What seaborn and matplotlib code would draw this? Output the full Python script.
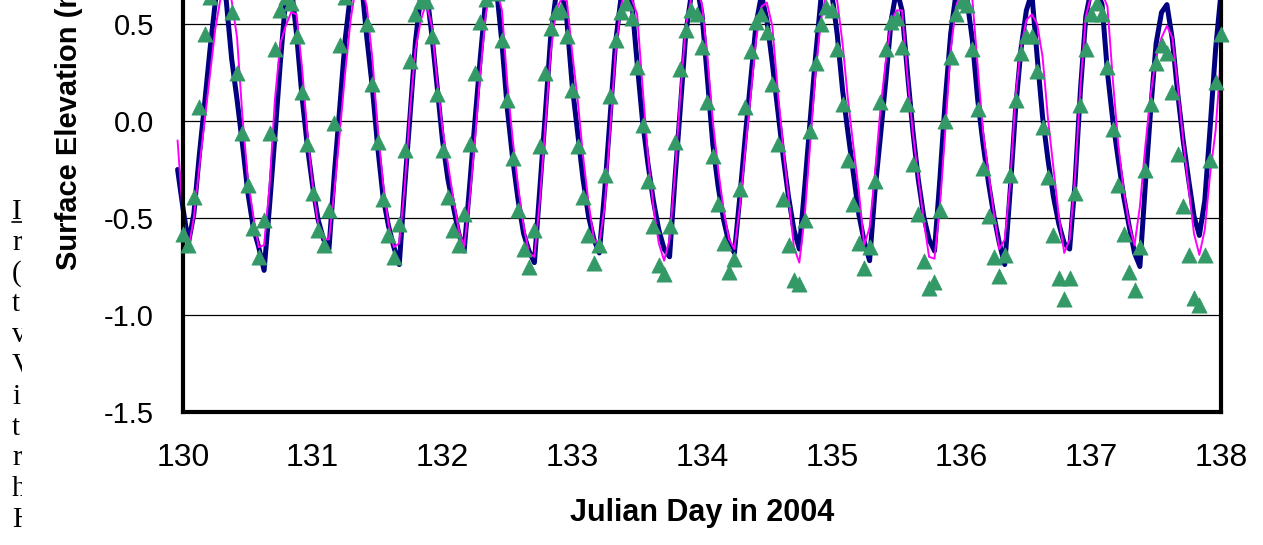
import numpy as np
import pandas as pd
import seaborn as sns
import matplotlib.pyplot as plt
from matplotlib import font_manager
from matplotlib.lines import Line2D
from matplotlib.patches import Rectangle

# hourly surface elevation (m), day 130.0 -> 138.0
obs_elev = [
    -0.58, -0.64, -0.39, 0.07, 0.45, 0.64, 0.75, 0.76, 0.68, 0.56, 0.25, -0.06,
    -0.33, -0.55, -0.70, -0.51, -0.06, 0.37, 0.57, 0.64, 0.61, 0.44, 0.15, -0.12,
    -0.37, -0.56, -0.64, -0.46, -0.01, 0.39, 0.64, 0.75, 0.78, 0.68, 0.50, 0.19,
    -0.11, -0.40, -0.59, -0.70, -0.53, -0.15, 0.31, 0.55, 0.62, 0.62, 0.44, 0.14,
    -0.15, -0.39, -0.56, -0.64, -0.48, -0.12, 0.25, 0.51, 0.63, 0.72, 0.66, 0.42,
    0.11, -0.19, -0.46, -0.66, -0.75, -0.56, -0.13, 0.25, 0.48, 0.56, 0.57, 0.44,
    0.16, -0.13, -0.39, -0.59, -0.73, -0.64, -0.28, 0.13, 0.42, 0.56, 0.61, 0.53,
    0.28, -0.02, -0.31, -0.54, -0.74, -0.79, -0.54, -0.11, 0.27, 0.47, 0.57, 0.55,
    0.38, 0.10, -0.18, -0.43, -0.63, -0.78, -0.71, -0.35, 0.07, 0.36, 0.51, 0.55,
    0.46, 0.19, -0.12, -0.40, -0.64, -0.82, -0.84, -0.51, -0.05, 0.30, 0.50, 0.59,
    0.57, 0.37, 0.09, -0.20, -0.43, -0.63, -0.76, -0.65, -0.31, 0.10, 0.37, 0.51,
    0.53, 0.38, 0.09, -0.22, -0.48, -0.72, -0.86, -0.83, -0.46, 0.00, 0.33, 0.55,
    0.62, 0.60, 0.37, 0.06, -0.24, -0.49, -0.70, -0.80, -0.69, -0.28, 0.11, 0.35,
    0.44, 0.44, 0.26, -0.03, -0.29, -0.59, -0.81, -0.92, -0.81, -0.37, 0.08, 0.37,
    0.55, 0.61, 0.55, 0.28, -0.04, -0.33, -0.58, -0.78, -0.87, -0.65, -0.25, 0.09,
    0.30, 0.39, 0.35, 0.15, -0.17, -0.44, -0.69, -0.91, -0.95, -0.69, -0.20, 0.20,
    0.45,
]

# model runs start one hour before day 130
navy_elev = [
    -0.25,
    -0.45, -0.63, -0.48, -0.18, 0.09, 0.37, 0.62, 0.76, 0.62, 0.32, 0.11, -0.12,
    -0.37, -0.55, -0.65, -0.77, -0.44, -0.08, 0.30, 0.63, 0.70, 0.45, 0.13, -0.13,
    -0.34, -0.51, -0.61, -0.66, -0.27, 0.07, 0.42, 0.66, 0.76, 0.72, 0.43, 0.18,
    -0.13, -0.39, -0.54, -0.65, -0.74, -0.34, 0.03, 0.41, 0.65, 0.68, 0.45, 0.18,
    -0.10, -0.30, -0.44, -0.58, -0.67, -0.34, 0.00, 0.33, 0.63, 0.74, 0.68, 0.40,
    0.06, -0.20, -0.41, -0.58, -0.67, -0.73, -0.35, 0.03, 0.43, 0.65, 0.68, 0.52,
    0.18, -0.06, -0.30, -0.49, -0.61, -0.68, -0.36, 0.02, 0.40, 0.63, 0.70, 0.62,
    0.30, 0.00, -0.22, -0.41, -0.56, -0.66, -0.70, -0.30, 0.07, 0.45, 0.65, 0.70,
    0.55, 0.22, -0.12, -0.34, -0.51, -0.63, -0.68, -0.39, -0.08, 0.21, 0.50, 0.65,
    0.52, 0.30, 0.06, -0.18, -0.39, -0.56, -0.66, -0.34, 0.00, 0.33, 0.63, 0.72,
    0.66, 0.45, 0.16, -0.06, -0.27, -0.48, -0.62, -0.72, -0.36, -0.08, 0.21, 0.52,
    0.68, 0.57, 0.25, -0.05, -0.30, -0.49, -0.61, -0.67, -0.30, 0.11, 0.45, 0.66,
    0.70, 0.63, 0.42, 0.11, -0.12, -0.32, -0.49, -0.63, -0.74, -0.36, 0.06, 0.37,
    0.57, 0.66, 0.33, 0.02, -0.20, -0.39, -0.53, -0.63, -0.66, -0.32, 0.16, 0.54,
    0.68, 0.68, 0.60, 0.25, 0.00, -0.20, -0.39, -0.54, -0.68, -0.75, -0.33, 0.06,
    0.40, 0.56, 0.60, 0.42, 0.14, -0.10, -0.30, -0.49, -0.59, -0.41, -0.03, 0.37,
    0.66,
]

magenta_elev = [
    -0.10,
    -0.50, -0.66, -0.50, -0.24, 0.00, 0.24, 0.48, 0.64, 0.72, 0.62, 0.43, 0.02,
    -0.30, -0.49, -0.65, -0.64, -0.34, 0.11, 0.40, 0.49, 0.56, 0.55, 0.28, -0.06,
    -0.34, -0.53, -0.61, -0.61, -0.36, -0.06, 0.25, 0.52, 0.70, 0.70, 0.59, 0.33,
    -0.03, -0.32, -0.53, -0.65, -0.63, -0.34, 0.06, 0.37, 0.52, 0.61, 0.49, 0.21,
    -0.04, -0.22, -0.40, -0.56, -0.65, -0.41, -0.10, 0.25, 0.55, 0.70, 0.68, 0.57,
    0.19, -0.10, -0.34, -0.54, -0.68, -0.70, -0.41, -0.03, 0.35, 0.57, 0.63, 0.62,
    0.35, 0.11, -0.18, -0.42, -0.61, -0.63, -0.44, -0.05, 0.35, 0.59, 0.70, 0.63,
    0.55, 0.18, -0.18, -0.44, -0.63, -0.72, -0.61, -0.27, 0.14, 0.49, 0.63, 0.70,
    0.60, 0.33, 0.00, -0.25, -0.46, -0.61, -0.66, -0.44, -0.15, 0.13, 0.42, 0.59,
    0.61, 0.49, 0.16, -0.13, -0.39, -0.65, -0.73, -0.49, -0.12, 0.25, 0.52, 0.66,
    0.70, 0.62, 0.40, 0.11, -0.13, -0.36, -0.64, -0.55, -0.27, 0.06, 0.31, 0.52,
    0.57, 0.57, 0.23, -0.06, -0.29, -0.51, -0.70, -0.71, -0.44, -0.05, 0.37, 0.59,
    0.68, 0.66, 0.63, 0.28, -0.06, -0.27, -0.48, -0.66, -0.61, -0.32, 0.13, 0.38,
    0.52, 0.55, 0.50, 0.33, 0.01, -0.24, -0.49, -0.68, -0.61, -0.29, 0.18, 0.54,
    0.65, 0.68, 0.66, 0.59, 0.21, -0.12, -0.36, -0.53, -0.64, -0.44, -0.13, 0.14,
    0.33, 0.43, 0.49, 0.43, 0.18, -0.10, -0.34, -0.58, -0.69, -0.56, -0.27, -0.05,
    0.34,
]

start_day = 130.0
x_ticks = [130, 131, 132, 133, 134, 135, 136, 137, 138]
# only the ticks that fall inside the cropped picture
y_ticks = [-1.5, -1.0, -0.5, 0.0, 0.5]
y_ticklabels = ['-1.5', '-1.0', '-0.5', '0.0', '0.5']
# clipped first letters of the surrounding page text
side_text = ['I', 'r', '(', 't', 'v', 'V', 'i', 't', 'r', 'h', 'H']

obs = pd.DataFrame({'day': start_day + np.arange(len(obs_elev)) / 24, 'elev': obs_elev})
navy = pd.DataFrame({'day': start_day + (np.arange(len(navy_elev)) - 1) / 24, 'elev': navy_elev})
magenta = pd.DataFrame({'day': start_day + (np.arange(len(magenta_elev)) - 1) / 24, 'elev': magenta_elev})

sns.set_style('white')
plt.rcParams['font.family'] = ['Liberation Sans', 'DejaVu Sans']
plt.rcParams['text.color'] = 'black'
plt.rcParams['axes.labelcolor'] = 'black'
plt.rcParams['xtick.color'] = 'black'
plt.rcParams['ytick.color'] = 'black'

names = {f.name for f in font_manager.fontManager.ttflist}
narrow = 'Liberation Sans Narrow' if 'Liberation Sans Narrow' in names else 'Liberation Sans'

W, H = 1263, 545
fig = plt.figure(figsize=(W / 100, H / 100), dpi=100)
# axes top runs off the canvas (the picture is cropped)
ax = fig.add_axes([183 / W, 133 / H, 1038 / W, 582 / H])

sns.lineplot(data=navy, x='day', y='elev', color='#000080', lw=3.6, estimator=None,
             ax=ax, clip_on=False, zorder=2)
sns.lineplot(data=magenta, x='day', y='elev', color='#FF00FF', lw=1.4, estimator=None,
             ax=ax, clip_on=False, zorder=2.2)
sns.scatterplot(data=obs, x='day', y='elev', marker='^', s=120, color='#339966',
                edgecolor='#339966', linewidth=0.5, ax=ax, clip_on=False, zorder=4)

ax.set_xlim(130, 138)
ax.set_ylim(-1.5, 1.5)
ax.set_xticks(x_ticks)
ax.set_yticks(y_ticks, labels=y_ticklabels)

ax.set_axisbelow(True)
ax.yaxis.grid(True, color='black', lw=0.9)
ax.xaxis.grid(False)
for side in ['left', 'right', 'bottom', 'top']:
    ax.spines[side].set_visible(True)
    ax.spines[side].set_color('black')
    ax.spines[side].set_linewidth(3)

ax.tick_params(axis='y', direction='out', length=9, width=2.5, pad=12, labelsize=21)
ax.tick_params(axis='x', direction='out', length=9, width=2.5, pad=13)
for lab in ax.get_xticklabels():
    lab.set_fontfamily(narrow)
    lab.set_fontsize(23)

ax.set_xlabel('Julian Day in 2004', fontfamily=narrow, fontweight='bold', fontsize=22, labelpad=18)
ax.set_ylabel('Surface Elevation (m)', fontweight='bold', fontsize=21, labelpad=15)

for i, ch in enumerate(side_text):
    fig.text(12 / W, 1 - (219 + 30.8 * i) / H, ch, fontsize=21,
             family=['Liberation Serif', 'DejaVu Serif'], ha='left', va='baseline')
fig.add_artist(Line2D([12 / W, 22 / W], [1 - 222 / H, 1 - 222 / H],
                      transform=fig.transFigure, color='black', lw=1.2))
fig.add_artist(Rectangle((22 / W, 0), 18 / W, 1 - 185 / H, transform=fig.transFigure,
                         facecolor='white', edgecolor='none', zorder=10))

fig.savefig('out.png', dpi=100)
